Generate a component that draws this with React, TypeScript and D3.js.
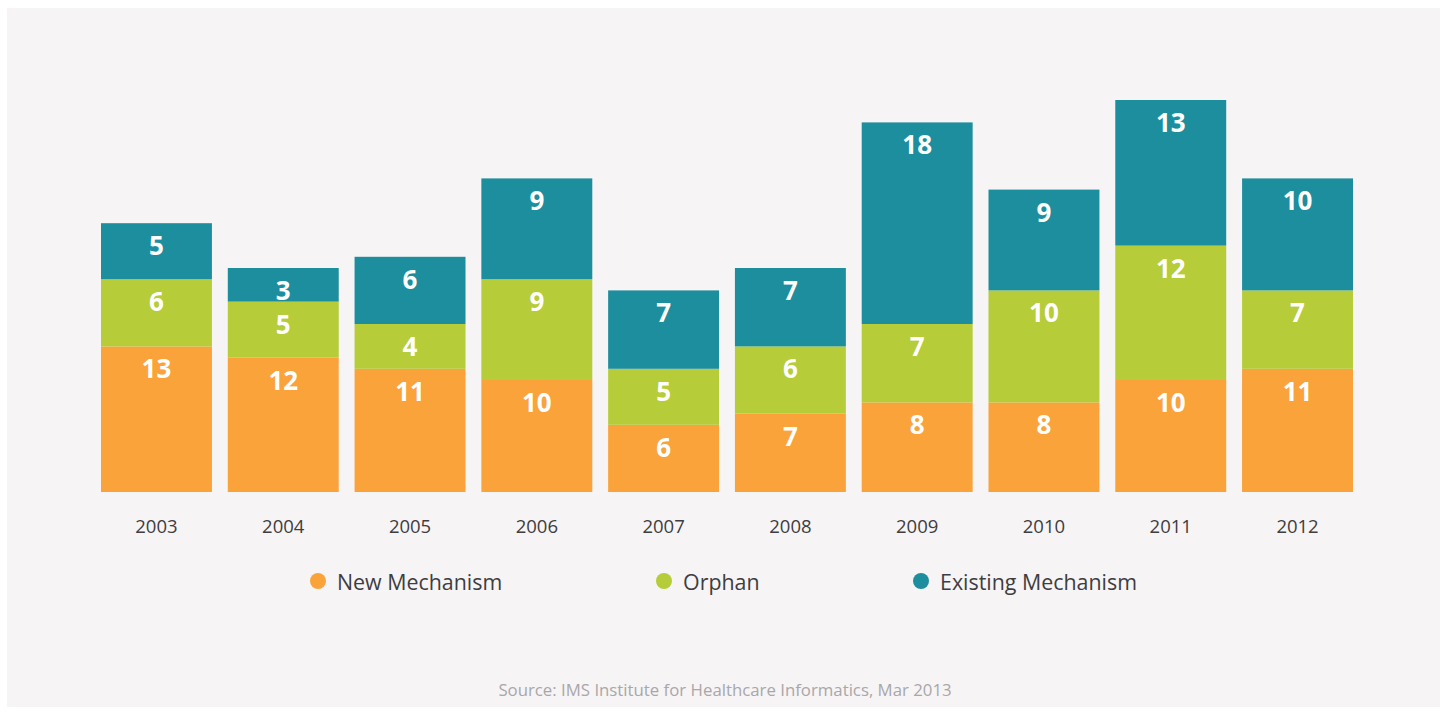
import React from "react";
import * as d3 from "d3";

const years = ["2003", "2004", "2005", "2006", "2007", "2008", "2009", "2010", "2011", "2012"];
const newMechanism = [13, 12, 11, 10, 6, 7, 8, 8, 10, 11];
const orphan = [6, 5, 4, 9, 5, 6, 7, 10, 12, 7];
const existingMechanism = [5, 3, 6, 9, 7, 7, 18, 9, 13, 10];
const seriesNames = ["New Mechanism", "Orphan", "Existing Mechanism"];
const seriesColors = ["#FAA33B", "#B6CC38", "#1D8E9D"];
const sourceText = "Source: IMS Institute for Healthcare Informatics, Mar 2013";

const W = 1447;
const H = 715;
const FONT = "'Open Sans', 'Noto Sans', sans-serif";

export default function App() {
  const x = d3.scaleBand<string>().domain(years).range([85.15, 1368.85]).padding(0.125);
  const y = d3.scaleLinear().domain([0, 35]).range([492, 100]);

  const table = years.map((yr, i) => ({
    year: yr,
    "New Mechanism": newMechanism[i],
    Orphan: orphan[i],
    "Existing Mechanism": existingMechanism[i],
  }));
  const stacked = d3.stack<any>().keys(seriesNames)(table);

  const legendX = [318, 664, 921];

  return (
    <svg
      width={W}
      height={H}
      style={{ position: "absolute", left: 0, top: 0, background: "#ffffff" }}
      fontFamily={FONT}
    >
      <rect x={7} y={8} width={1433} height={699} fill="#F6F4F5" />
      {stacked.map((layer, si) => (
        <g key={layer.key}>
          {layer.map((d, i) => (
            <g key={years[i]}>
              <rect
                x={x(years[i])}
                y={y(d[1])}
                width={x.bandwidth()}
                height={y(d[0]) - y(d[1])}
                fill={seriesColors[si]}
              />
              <text
                x={(x(years[i]) as number) + x.bandwidth() / 2}
                y={y(d[1]) + 22}
                textAnchor="middle"
                dominantBaseline="central"
                fill="#ffffff"
                fontWeight={700}
                fontSize={26}
              >
                {d[1] - d[0]}
              </text>
            </g>
          ))}
        </g>
      ))}
      {years.map((yr) => (
        <text
          key={yr}
          x={(x(yr) as number) + x.bandwidth() / 2}
          y={525}
          textAnchor="middle"
          dominantBaseline="central"
          fill="#3E3D40"
          fontSize={18.5}
        >
          {yr}
        </text>
      ))}
      {seriesNames.map((name, i) => (
        <g key={name} transform={`translate(${legendX[i]},581)`}>
          <circle r={8} fill={seriesColors[i]} />
          <text x={19} dominantBaseline="central" fill="#3E3D40" fontSize={21.4}>
            {name}
          </text>
        </g>
      ))}
      <text
        x={725}
        y={689}
        textAnchor="middle"
        dominantBaseline="central"
        fill="#A9A7A9"
        fontSize={16.8}
      >
        {sourceText}
      </text>
    </svg>
  );
}
